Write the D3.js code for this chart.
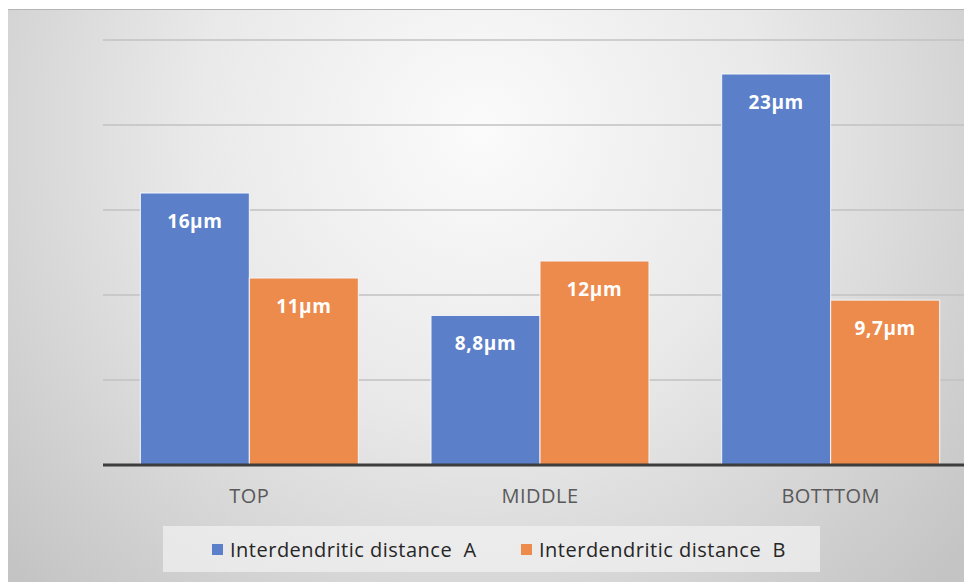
<!DOCTYPE html>
<html>
<head>
<meta charset="utf-8">
<script src="https://cdn.jsdelivr.net/npm/d3@7"></script>
<style>
  html, body { margin: 0; padding: 0; background: #ffffff; }
  svg { display: block; }
</style>
</head>
<body>
<svg id="chart" width="964" height="582"></svg>
<script>
// Chart data
const categories = ["TOP", "MIDDLE", "BOTTTOM"];
const seriesNames = ["Interdendritic distance  A", "Interdendritic distance  B"];
const distanceA = [16, 8.8, 23];
const distanceB = [11, 12, 9.7];
const gridTicks = [5, 10, 15, 20, 25];
const seriesColors = ["#5b80c9", "#ed8b4c"];

const svg = d3.select("#chart");
const W = 964, H = 582;

// Background panel with soft radial shading
const defs = svg.append("defs");
const grad = defs.append("radialGradient")
  .attr("id", "bg")
  .attr("gradientUnits", "userSpaceOnUse")
  .attr("cx", 480).attr("cy", 130).attr("r", 640);
grad.append("stop").attr("offset", "0").attr("stop-color", "#fbfbfb");
grad.append("stop").attr("offset", "0.45").attr("stop-color", "#e9e9e9");
grad.append("stop").attr("offset", "1").attr("stop-color", "#c4c4c4");

svg.append("rect")
  .attr("x", 8).attr("y", 9).attr("width", W - 8).attr("height", H - 9)
  .attr("fill", "url(#bg)");
svg.append("line")
  .attr("x1", 8).attr("x2", W).attr("y1", 9.5).attr("y2", 9.5)
  .attr("stroke", "#b5b5b5").attr("stroke-width", 1);

// Scales
const x0 = d3.scaleBand()
  .domain(categories)
  .range([104, 976])
  .paddingInner(0.25)
  .paddingOuter(0.125);
const x1 = d3.scaleBand()
  .domain(seriesNames)
  .range([0, x0.bandwidth()])
  .padding(0);
const y = d3.scaleLinear().domain([0, 25]).range([465, 40]);

// Gridlines
svg.append("g")
  .selectAll("line")
  .data(gridTicks)
  .join("line")
  .attr("x1", 103).attr("x2", W)
  .attr("y1", d => y(d)).attr("y2", d => y(d))
  .attr("stroke", "#c2c2c2").attr("stroke-width", 1.5);

// Bars
const rows = categories.map((c, i) => ({
  category: c,
  values: [
    { series: seriesNames[0], value: distanceA[i], color: seriesColors[0] },
    { series: seriesNames[1], value: distanceB[i], color: seriesColors[1] }
  ]
}));

const fmt = v => String(v).replace(".", ",") + "\u00b5m";

const groups = svg.append("g")
  .selectAll("g")
  .data(rows)
  .join("g")
  .attr("transform", d => `translate(${x0(d.category)},0)`);

groups.selectAll("rect")
  .data(d => d.values)
  .join("rect")
  .attr("x", d => x1(d.series))
  .attr("y", d => y(d.value))
  .attr("width", x1.bandwidth())
  .attr("height", d => y(0) - y(d.value))
  .attr("fill", d => d.color)
  .attr("stroke", "#f4f6fb")
  .attr("stroke-width", 1);

groups.selectAll("text")
  .data(d => d.values)
  .join("text")
  .attr("x", d => x1(d.series) + x1.bandwidth() / 2)
  .attr("y", d => y(d.value) + 35)
  .attr("text-anchor", "middle")
  .attr("fill", "#ffffff")
  .attr("font-family", "'Open Sans', sans-serif")
  .attr("font-weight", "bold")
  .attr("font-size", 19)
  .attr("letter-spacing", 0.6)
  .text(d => fmt(d.value));

// Baseline
svg.append("line")
  .attr("x1", 103).attr("x2", W)
  .attr("y1", y(0)).attr("y2", y(0))
  .attr("stroke", "#3d3d3d").attr("stroke-width", 3);

// Category labels
const xAxis = d3.axisBottom(x0).tickSize(0).tickPadding(0);
const axisG = svg.append("g")
  .attr("transform", `translate(0,${503})`)
  .call(xAxis);
axisG.select(".domain").remove();
axisG.selectAll("text")
  .attr("dy", 0)
  .attr("fill", "#595959")
  .attr("font-family", "'Open Sans', sans-serif")
  .attr("font-size", 20)
  .attr("letter-spacing", 0.5);

// Legend
const legend = svg.append("g");
legend.append("rect")
  .attr("x", 163).attr("y", 526).attr("width", 657).attr("height", 46)
  .attr("fill", "#f2f2f2").attr("opacity", 0.7);
const legendX = [212, 521];
seriesNames.forEach((name, i) => {
  legend.append("rect")
    .attr("x", legendX[i]).attr("y", 544)
    .attr("width", 11).attr("height", 11)
    .attr("fill", seriesColors[i]);
  legend.append("text")
    .attr("x", legendX[i] + 18).attr("y", 557)
    .attr("fill", "#262626")
    .attr("font-family", "'Open Sans', sans-serif")
    .attr("font-size", 20)
    .attr("letter-spacing", 0.5)
    .style("white-space", "pre")
    .text(name);
});
</script>
</body>
</html>
